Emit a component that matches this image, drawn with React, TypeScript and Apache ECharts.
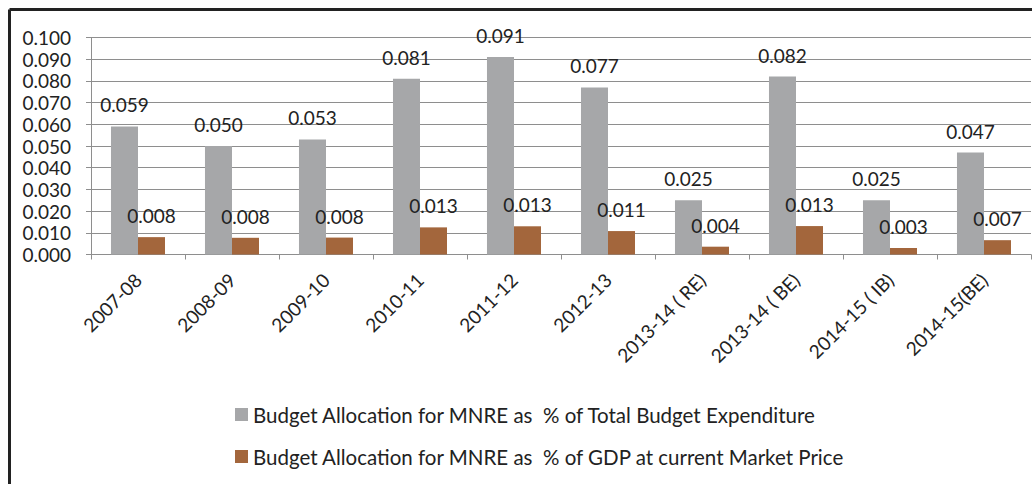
import React, { useEffect, useRef } from "react";
import * as echarts from "echarts";

const categories = [
  "2007-08",
  "2008-09",
  "2009-10",
  "2010-11",
  "2011-12",
  "2012-13",
  "2013-14 ( RE)",
  "2013-14 ( BE)",
  "2014-15 ( IB)",
  "2014-15(BE)",
];

const totalBudgetShare = [0.059, 0.05, 0.053, 0.081, 0.091, 0.077, 0.025, 0.082, 0.025, 0.047];
const gdpShare = [0.008, 0.0077, 0.0078, 0.0125, 0.013, 0.0108, 0.0036, 0.0131, 0.003, 0.0066];

const seriesNames = [
  "Budget Allocation for MNRE as  % of Total Budget Expenditure",
  "Budget Allocation for MNRE as  % of GDP at current Market Price",
];

const yTicks = { min: 0, max: 0.1, interval: 0.01 };

const FONT = "Lato, 'Open Sans', sans-serif";

export default function App() {
  const ref = useRef<HTMLDivElement>(null);

  useEffect(() => {
    if (!ref.current) return;
    const chart = echarts.init(ref.current, null, { renderer: "svg" });
    const labelCfg = {
      show: true,
      position: "top" as const,
      distance: 12,
      color: "#222",
      fontSize: 19,
      fontFamily: FONT,
      formatter: (p: any) => Number(p.value).toFixed(3),
    };
    chart.setOption({
      animation: false,
      backgroundColor: "#ffffff",
      textStyle: { fontFamily: FONT },
      grid: { left: 91, right: 1, top: 37.5, bottom: 229.5, containLabel: false },
      xAxis: {
        type: "category",
        data: categories,
        axisLine: { show: true, lineStyle: { color: "#8e8e8e", width: 1 } },
        axisTick: { show: true, length: 5, lineStyle: { color: "#8e8e8e" } },
        axisLabel: {
          rotate: 45,
          margin: 22,
          interval: 0,
          color: "#222",
          fontSize: 19,
          fontFamily: FONT,
        },
        splitLine: { show: false },
      },
      yAxis: {
        type: "value",
        min: yTicks.min,
        max: yTicks.max,
        interval: yTicks.interval,
        axisLine: { show: true, lineStyle: { color: "#8e8e8e", width: 1 } },
        axisTick: { show: true, length: 5, inside: false, lineStyle: { color: "#8e8e8e" } },
        axisLabel: {
          margin: 20,
          color: "#222",
          fontSize: 19,
          fontFamily: FONT,
          formatter: (v: number) => v.toFixed(3),
        },
        splitLine: { show: true, lineStyle: { color: "#8e8e8e", width: 1 } },
      },
      legend: {
        orient: "vertical",
        left: 230,
        top: 399,
        itemWidth: 13,
        itemHeight: 13,
        itemGap: 21,
        icon: "rect",
        textStyle: { color: "#222", fontSize: 20.5, fontFamily: FONT, lineHeight: 20 },
        data: seriesNames,
      },
      series: [
        {
          name: seriesNames[0],
          type: "bar",
          data: totalBudgetShare,
          barGap: "0%",
          barCategoryGap: "42.5%",
          itemStyle: { color: "#a6a7a9" },
          label: labelCfg,
        },
        {
          name: seriesNames[1],
          type: "bar",
          data: gdpShare,
          barGap: "0%",
          barCategoryGap: "42.5%",
          itemStyle: { color: "#a3663c" },
          label: labelCfg,
        },
      ],
      graphic: [
        {
          type: "line",
          shape: { x1: 9.5, y1: 9.5, x2: 1032, y2: 9.5 },
          style: { stroke: "#222", lineWidth: 3 },
        },
        {
          type: "line",
          shape: { x1: 9.5, y1: 9.5, x2: 9.5, y2: 484 },
          style: { stroke: "#222", lineWidth: 3 },
        },
      ],
    });
    return () => chart.dispose();
  }, []);

  return (
    <div
      ref={ref}
      style={{ position: "fixed", left: 0, top: 0, width: 1032, height: 484 }}
    />
  );
}
